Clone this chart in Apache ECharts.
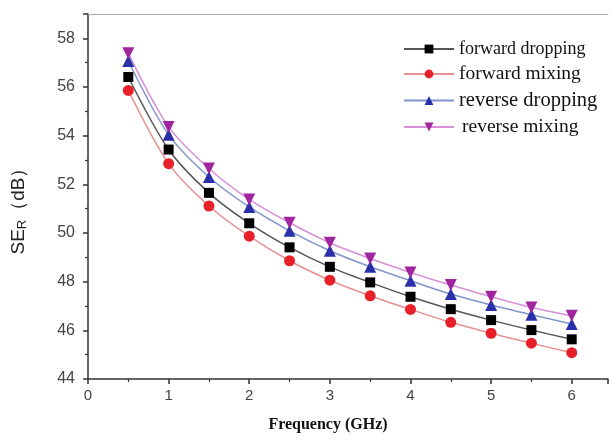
<!DOCTYPE html>
<html><head><meta charset="utf-8">
<script src="https://cdn.jsdelivr.net/npm/echarts@6/dist/echarts.min.js"></script>
<style>html,body{margin:0;padding:0;background:#fff}#c{width:611px;height:441px}</style>
</head><body><div id="c"></div>
<script>
const freq = [0.5,1,1.5,2,2.5,3,3.5,4,4.5,5,5.5,6];
const forwardDropping = [56.41,53.43,51.65,50.40,49.41,48.61,47.97,47.38,46.87,46.42,46.01,45.63];
const forwardMixing   = [55.86,52.85,51.11,49.87,48.86,48.06,47.42,46.86,46.33,45.88,45.47,45.08];
const reverseDropping = [57.07,54.04,52.30,51.07,50.09,49.27,48.61,48.04,47.49,47.04,46.64,46.26];
const reverseMixing   = [57.39,54.36,52.65,51.38,50.42,49.60,48.95,48.38,47.86,47.38,46.94,46.60];
const names = ['forward dropping','forward mixing','reverse dropping','reverse mixing'];
const pair = a => freq.map((f,i)=>[f,a[i]]);

const chart = echarts.init(document.getElementById('c'));
const mk = (name, data, symbol, size, mcolor, lcolor, rot) => ({
  name, type:'line', data: pair(data), smooth:0.3, symbol, symbolSize:size, symbolRotate:rot||0,
  itemStyle:{color:mcolor}, lineStyle:{color:lcolor, width:1.5}, z: 3
});
chart.setOption({
  animation:false,
  backgroundColor:'#fff',
  grid:{left:88, right:0, top:14, bottom:62},
  legend:{
    orient:'vertical', left:398, top:35, itemGap:6, itemWidth:50, itemHeight:11,
    formatter: n => {
      const k = {'forward dropping':'a','forward mixing':'b','reverse dropping':'c','reverse mixing':'d'}[n];
      return '{' + k + '|' + n + '}';
    },
    textStyle:{fontFamily:'Liberation Serif', fontSize:19, color:'#111', rich:{
      a:{fontFamily:'Liberation Serif', fontSize:18, color:'#111'},
      b:{fontFamily:'Liberation Serif', fontSize:19.5, color:'#111'},
      c:{fontFamily:'Liberation Serif', fontSize:20.5, color:'#111'},
      d:{fontFamily:'Liberation Serif', fontSize:19.5, color:'#111', padding:[0,0,0,3]}
    }},
    data: names
  },
  xAxis:[{
    type:'value', min:0, max:6.45, interval:1,
    name:'Frequency (GHz)', nameLocation:'middle', nameGap:38,
    nameTextStyle:{fontFamily:'Liberation Serif', fontWeight:'bold', fontSize:16, color:'#111', padding:[0,0,0,-40]},
    axisLine:{show:true, onZero:false, lineStyle:{color:'#333', width:1.5}},
    axisTick:{show:true, inside:false, length:5, lineStyle:{color:'#333', width:1.5}},
    minorTick:{show:true, splitNumber:2, length:3, lineStyle:{color:'#333', width:1.2}},
    axisLabel:{fontFamily:'Liberation Sans', fontSize:15, color:'#444', margin:9,
      formatter:v=> (v<=6 ? String(v) : '')},
    splitLine:{show:false}
  },{
    type:'value', position:'top', min:0, max:6.45,
    axisLine:{show:true, lineStyle:{color:'#aaa', width:1}},
    axisTick:{show:false}, axisLabel:{show:false}, splitLine:{show:false}
  }],
  yAxis:{
    type:'value', min:44, max:59, interval:2,
    name:'{a|SE}{s|R}{a|（dB）}', nameLocation:'middle', nameGap:59, nameRotate:90,
    nameTextStyle:{padding:[0,20,0,0], rich:{
      a:{fontFamily:'Liberation Sans', fontSize:19, color:'#222'},
      s:{fontFamily:'Liberation Sans', fontSize:13, color:'#222', verticalAlign:'bottom', padding:[8,0,0,0]}
    }},
    axisLine:{show:true, lineStyle:{color:'#333', width:1.5}},
    axisTick:{show:true, inside:false, length:5, lineStyle:{color:'#333', width:1.5}},
    minorTick:{show:true, splitNumber:2, length:3, lineStyle:{color:'#333', width:1.2}},
    axisLabel:{fontFamily:'Liberation Sans', fontSize:16, color:'#444', margin:13,
      formatter:v=> (v%2===0 ? String(v) : '')},
    splitLine:{show:false}
  },
  series:[
    mk(names[0], forwardDropping, 'rect', 10, '#000000', '#555555'),
    mk(names[1], forwardMixing, 'circle', 11, '#e8202a', '#e89090'),
    mk(names[2], reverseDropping, 'triangle', 12, '#2a30a8', '#7f95cc'),
    mk(names[3], reverseMixing, 'triangle', 12, '#a0259e', '#d890d8', 180)
  ]
});
</script>
</body></html>
